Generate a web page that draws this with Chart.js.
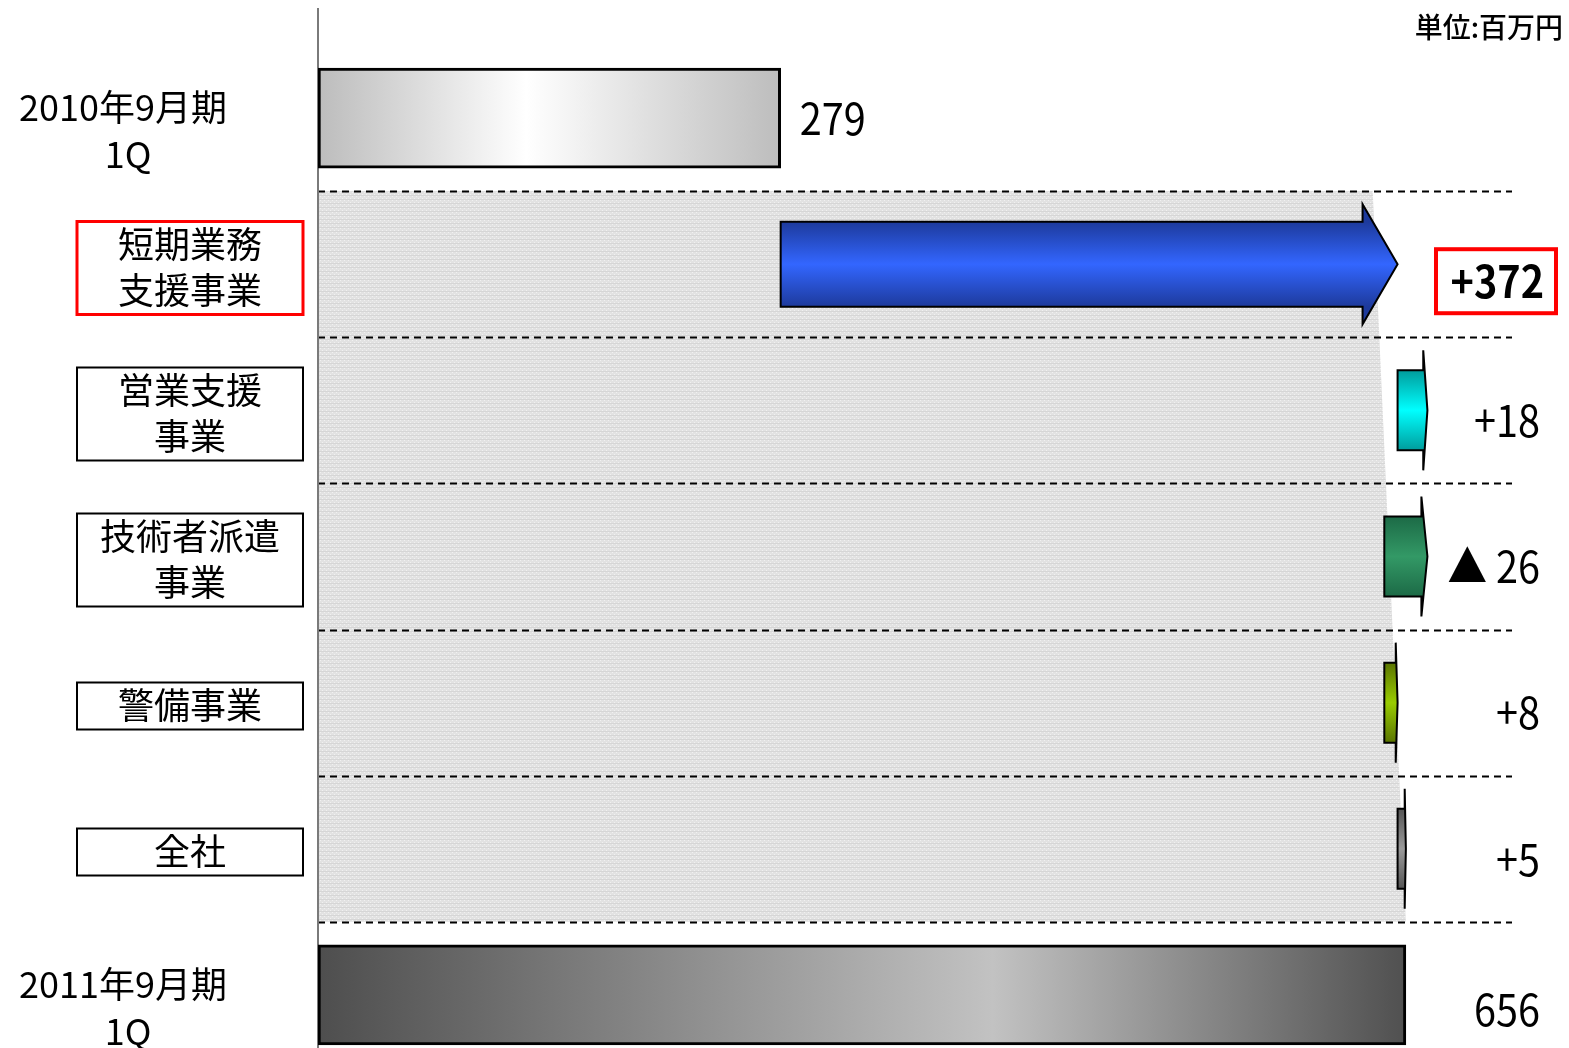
<!DOCTYPE html>
<html lang="ja">
<head>
<meta charset="utf-8">
<title>営業利益 増減要因</title>
<script src="https://cdn.jsdelivr.net/npm/chart.js@4.4.1/dist/chart.umd.min.js"></script>
<style>
  html, body { margin: 0; padding: 0; background: #fff; overflow: hidden; }
  .chart-wrap { position: relative; width: 1569px; height: 1070px; }
</style>
</head>
<body>
<div class="chart-wrap"><canvas id="bridgeChart"></canvas></div>
<script>
// ---------------------- DATA ----------------------
const rowLabels = [
  ["2010年9月期", "1Q"],
  ["短期業務", "支援事業"],
  ["営業支援", "事業"],
  ["技術者派遣", "事業"],
  ["警備事業"],
  ["全社"],
  ["2011年9月期", "1Q"],
];
const startTotal = 279;
const deltas = [372, 18, -26, 8, 5];
const endTotal = 656;
const valueLabels = ["279", "+372", "+18", "▲ 26", "+8", "+5", "656"];
const unitLabel = "単位:百万円";

// ---------------------- STYLE ----------------------
const FONT = "'Noto Sans CJK JP', 'Noto Sans', sans-serif";
const arrowColors = [
  ["#1d3a9c", "#3366ff"],
  ["#009c9c", "#00ffff"],
  ["#1c6a46", "#339966"],
  ["#5a7400", "#99cc00"],
  ["#555555", "#9a9a9a"],
];
const highlightRow = 1;
const shadeTopValue = 636; // right edge of the grey flow band at its top

// floating bars built from the values above
const bars = [[0, startTotal]];
let running = startTotal;
deltas.forEach((d) => {
  bars.push([running, running + d]);
  running += d;
});
bars.push([0, endTotal]);

const lastRow = rowLabels.length - 1;
const isTotal = (i) => i === 0 || i === lastRow;

// ---------------------- HELPERS ----------------------
function drawText(ctx, text, x, y, font, align, sx = 1) {
  ctx.save();
  ctx.font = font;
  ctx.textAlign = align;
  ctx.textBaseline = "middle";
  ctx.fillStyle = "#000";
  ctx.translate(x, y);
  ctx.scale(sx, 1);
  ctx.fillText(text, 0, 0);
  ctx.restore();
}

function dotPattern(ctx) {
  const c = document.createElement("canvas");
  c.width = 4;
  c.height = 4;
  const p = c.getContext("2d");
  p.fillStyle = "#e2e2e2";
  p.fillRect(0, 0, 4, 4);
  p.fillStyle = "#f1f1f1";
  p.fillRect(0, 0, 1, 1);
  p.fillRect(2, 2, 1, 1);
  p.fillStyle = "#d6d6d6";
  p.fillRect(0, 3, 4, 1);
  return ctx.createPattern(c, "repeat");
}

// ---------------------- PLUGIN ----------------------
const bridgePlugin = {
  id: "bridge",
  beforeDatasetsDraw(chart) {
    const { ctx, chartArea, scales: { x, y } } = chart;
    const step = y.getPixelForValue(1) - y.getPixelForValue(0);
    const top = y.getPixelForValue(0) + step / 2;
    const bottom = y.getPixelForValue(lastRow) - step / 2;

    // grey flow band
    ctx.save();
    ctx.fillStyle = dotPattern(ctx);
    ctx.beginPath();
    ctx.moveTo(x.getPixelForValue(0), top);
    ctx.lineTo(x.getPixelForValue(shadeTopValue), top);
    ctx.lineTo(x.getPixelForValue(endTotal), bottom);
    ctx.lineTo(x.getPixelForValue(0), bottom);
    ctx.closePath();
    ctx.fill();

    // dashed row separators
    ctx.strokeStyle = "#000";
    ctx.lineWidth = 2;
    ctx.setLineDash([7, 5]);
    for (let i = 0; i < lastRow; i++) {
      const yy = Math.round(y.getPixelForValue(i) + step / 2) + 0.5;
      ctx.beginPath();
      ctx.moveTo(chartArea.left, yy);
      ctx.lineTo(chartArea.right, yy);
      ctx.stroke();
    }
    ctx.setLineDash([]);

    // vertical axis line
    ctx.strokeStyle = "#7a7a7a";
    ctx.lineWidth = 2;
    ctx.beginPath();
    ctx.moveTo(chartArea.left, 8);
    ctx.lineTo(chartArea.left, 1048);
    ctx.stroke();
    ctx.restore();
  },

  afterDatasetsDraw(chart) {
    const { ctx } = chart;
    const meta = chart.getDatasetMeta(0);
    meta.data.forEach((el, i) => {
      if (isTotal(i)) return;
      const { x, y, base, height } = el.getProps(["x", "y", "base", "height"], true);
      const dir = x >= base ? 1 : -1;
      const len = Math.abs(x - base);
      const head = Math.min(35, len * 0.14);
      const bh = height * (i === 1 ? 0.85 : 0.8) / 2;
      const hh = height * 1.2 / 2;
      const neck = x - dir * head;
      const [dark, light] = arrowColors[i - 1];
      const g = ctx.createLinearGradient(0, y - bh, 0, y + bh);
      g.addColorStop(0, dark);
      g.addColorStop(0.5, light);
      g.addColorStop(1, dark);
      ctx.save();
      ctx.beginPath();
      ctx.moveTo(base, y - bh);
      ctx.lineTo(neck, y - bh);
      ctx.lineTo(neck, y - hh);
      ctx.lineTo(x, y);
      ctx.lineTo(neck, y + hh);
      ctx.lineTo(neck, y + bh);
      ctx.lineTo(base, y + bh);
      ctx.closePath();
      ctx.fillStyle = g;
      ctx.fill();
      ctx.strokeStyle = "#000";
      ctx.lineWidth = 2;
      ctx.lineJoin = "miter";
      ctx.stroke();
      ctx.restore();
    });
  },

  afterDraw(chart) {
    const { ctx, scales: { x, y } } = chart;

    // unit
    drawText(ctx, unitLabel, 1563, 27, `500 28px ${FONT}`, "right");

    rowLabels.forEach((lines, i) => {
      const cy = y.getPixelForValue(i);
      if (isTotal(i)) {
        drawText(ctx, lines[0], 123, cy - 11, `36px ${FONT}`, "center");
        drawText(ctx, lines[1], 128, cy + 36, `36px ${FONT}`, "center");
        return;
      }
      const lh = 46;
      const boxH = 47 + (lines.length - 1) * lh;
      const by = cy + 3;
      ctx.save();
      ctx.strokeStyle = i === highlightRow ? "#ff0000" : "#000";
      ctx.lineWidth = i === highlightRow ? 3 : 2;
      ctx.strokeRect(77, Math.round(by - boxH / 2) + 0.5, 226, boxH);
      ctx.restore();
      lines.forEach((t, k) => {
        const ty = by - ((lines.length - 1) * lh) / 2 + k * lh;
        drawText(ctx, t, 190, ty, `36px ${FONT}`, "center");
      });
    });

    // value labels
    valueLabels.forEach((t, i) => {
      const cy = y.getPixelForValue(i);
      if (i === 0) {
        drawText(ctx, t, x.getPixelForValue(bars[0][1]) + 19, cy, `44px ${FONT}`, "left", 0.9);
        return;
      }
      if (i === highlightRow) {
        const ty = cy + 17;
        drawText(ctx, t, 1544, ty, `bold 44px ${FONT}`, "right", 0.9);
        ctx.save();
        ctx.strokeStyle = "#ff0000";
        ctx.lineWidth = 4;
        ctx.strokeRect(1436, ty - 32, 120, 64);
        ctx.restore();
        return;
      }
      const off = i === lastRow ? 14 : 10;
      drawText(ctx, t, 1540, cy + off, `44px ${FONT}`, "right", 0.9);
    });
  },
};

// ---------------------- CHART ----------------------
new Chart(document.getElementById("bridgeChart"), {
  type: "bar",
  data: {
    labels: rowLabels.map((l) => l.join("")),
    datasets: [
      {
        data: bars,
        barThickness: 100,
        borderSkipped: false,
        borderColor: "#000",
        borderWidth: (c) => (isTotal(c.dataIndex) ? 3 : 0),
        backgroundColor: (c) => {
          const chart = c.chart;
          if (!chart.chartArea || !isTotal(c.dataIndex)) return "rgba(0,0,0,0)";
          const [a, b] = bars[c.dataIndex];
          const x0 = chart.scales.x.getPixelForValue(a);
          const x1 = chart.scales.x.getPixelForValue(b);
          const g = chart.ctx.createLinearGradient(x0, 0, x1, 0);
          if (c.dataIndex === 0) {
            g.addColorStop(0, "#bcbcbc");
            g.addColorStop(0.45, "#ffffff");
            g.addColorStop(1, "#bdbdbd");
          } else {
            g.addColorStop(0, "#4e4e4e");
            g.addColorStop(0.62, "#c2c2c2");
            g.addColorStop(1, "#505050");
          }
          return g;
        },
      },
    ],
  },
  options: {
    indexAxis: "y",
    responsive: true,
    maintainAspectRatio: false,
    animation: false,
    layout: { padding: { left: 318, right: 57, top: 45, bottom: 2 } },
    plugins: { legend: { display: false }, tooltip: { enabled: false } },
    scales: {
      x: { display: false, min: 0, max: 720 },
      y: { display: false, offset: true, grid: { display: false } },
    },
  },
  plugins: [bridgePlugin],
});
</script>
</body>
</html>
